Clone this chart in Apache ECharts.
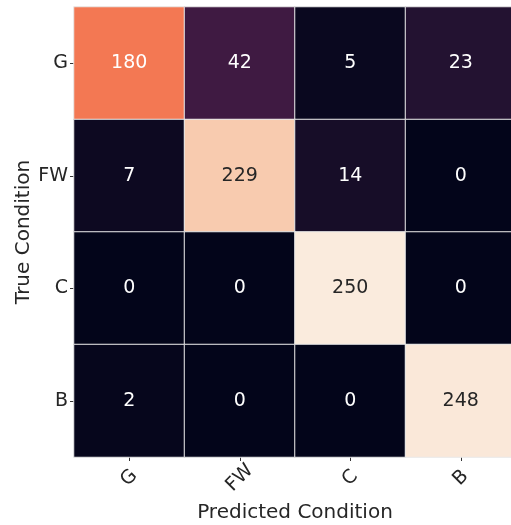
<!DOCTYPE html>
<html>
<head>
<meta charset="utf-8">
<script src="https://cdn.jsdelivr.net/npm/echarts@6/dist/echarts.min.js"></script>
<style>
  html, body { margin: 0; padding: 0; background: #ffffff; }
  #chart { width: 511px; height: 525px; }
</style>
</head>
<body>
<div id="chart"></div>
<script>
// Confusion matrix: rows are true classes, columns are predicted classes
const classes = ['G', 'FW', 'C', 'B'];
const counts = [
  [180, 42, 5, 23],
  [7, 229, 14, 0],
  [0, 0, 250, 0],
  [2, 0, 0, 248]
];
const xTitle = 'Predicted Condition';
const yTitle = 'True Condition';

// "rocket" colormap stops, evenly spaced from 0 to 1
const rocket = ['#03051a', '#35193e', '#701f57', '#ad1759', '#e13342', '#f37651', '#f6b48f', '#faebdd'];
const vmax = 250;

const cells = [];
counts.forEach((row, r) => {
  row.forEach((v, c) => {
    cells.push({
      value: [c, r, v],
      label: { color: v / vmax > 0.8 ? '#262626' : '#ffffff' }
    });
  });
});

const font = 'DejaVu Sans, sans-serif';
const chart = echarts.init(document.getElementById('chart'), null, { renderer: 'canvas' });
chart.setOption({
  animation: false,
  backgroundColor: '#ffffff',
  grid: { left: 74, top: 7, width: 442, height: 450, containLabel: false, outerBoundsMode: 'none' },
  xAxis: {
    type: 'category',
    data: classes,
    name: xTitle,
    nameLocation: 'middle',
    nameGap: 46,
    nameMoveOverlap: false,
    nameTextStyle: { fontFamily: font, fontSize: 20, color: '#262626' },
    axisLine: { show: false },
    axisTick: { show: true, alignWithLabel: true, length: 4, lineStyle: { color: '#333' } },
    axisLabel: {
      rotate: 45, fontFamily: font, fontSize: 19, color: '#262626',
      margin: 21, align: 'center', verticalAlign: 'middle'
    },
    splitLine: { show: false }
  },
  yAxis: {
    type: 'category',
    data: classes,
    inverse: true,
    name: yTitle,
    nameLocation: 'middle',
    nameGap: 40,
    nameMoveOverlap: false,
    nameRotate: 90,
    nameTextStyle: { fontFamily: font, fontSize: 20, color: '#262626' },
    axisLine: { show: false },
    axisTick: { show: true, alignWithLabel: true, length: 4, lineStyle: { color: '#333' } },
    axisLabel: { fontFamily: font, fontSize: 19, color: '#262626', margin: 6 },
    splitLine: { show: false }
  },
  visualMap: {
    show: false,
    min: 0,
    max: vmax,
    dimension: 2,
    inRange: { color: rocket }
  },
  series: [{
    type: 'heatmap',
    data: cells,
    itemStyle: { borderColor: '#e8e8e8', borderWidth: 1 },
    label: { show: true, fontFamily: font, fontSize: 19, formatter: p => p.value[2] },
    emphasis: { disabled: true }
  }]
});
</script>
</body>
</html>
